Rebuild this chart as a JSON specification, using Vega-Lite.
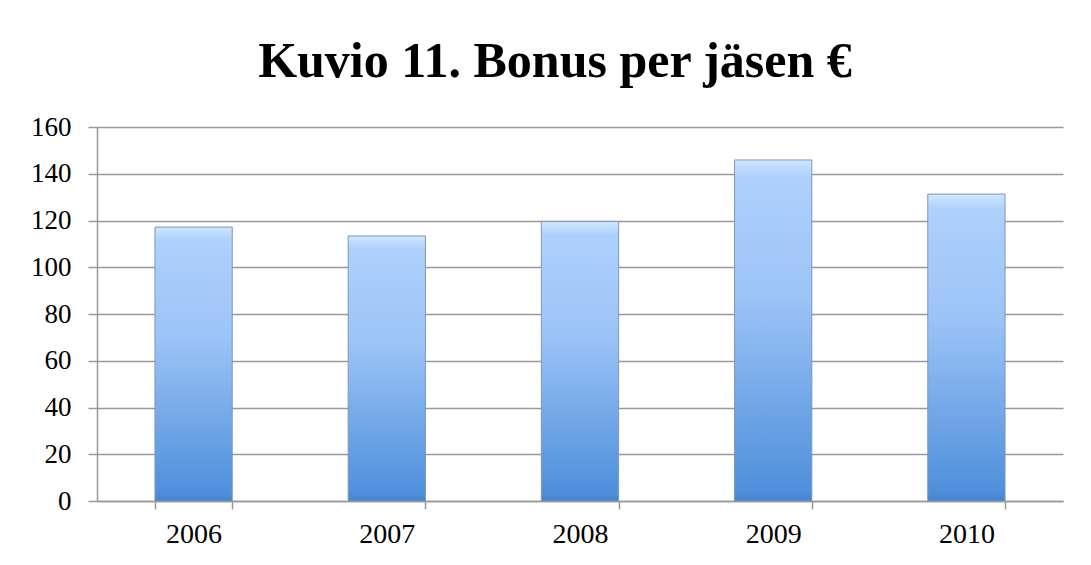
{
  "$schema": "https://vega.github.io/schema/vega-lite/v6.json",
  "width": 966,
  "height": 374,
  "autosize": {"type": "none"},
  "padding": {"left": 97, "top": 127, "right": 28, "bottom": 64},
  "background": "white",
  "title": {
    "text": "Kuvio 11. Bonus per jäsen €",
    "font": "Liberation Serif",
    "fontSize": 50,
    "fontWeight": "bold",
    "color": "#000000",
    "anchor": "middle",
    "baseline": "alphabetic",
    "offset": -14,
    "dx": -25
  },
  "data": {
    "values": [
      {"year": "2006", "bonus": 117.2},
      {"year": "2007", "bonus": 113.4},
      {"year": "2008", "bonus": 119.6},
      {"year": "2009", "bonus": 145.9},
      {"year": "2010", "bonus": 131.3}
    ]
  },
  "mark": {
    "type": "bar",
    "color": {
      "gradient": "linear",
      "x1": 0, "y1": 0, "x2": 0, "y2": 1,
      "stops": [
        {"offset": 0, "color": "#cfe6ff"},
        {"offset": 0.05, "color": "#aed0fc"},
        {"offset": 0.4, "color": "#9cc4f7"},
        {"offset": 0.97, "color": "#4f8fdb"},
        {"offset": 1, "color": "#4682cc"}
      ]
    },
    "stroke": "#7f97b8",
    "strokeWidth": 1
  },
  "encoding": {
    "x": {
      "field": "year",
      "type": "ordinal",
      "scale": {"paddingInner": 0.6, "paddingOuter": 0.3},
      "axis": {
        "title": null,
        "labelAngle": 0,
        "labelFont": "Liberation Serif",
        "labelFontSize": 28,
        "labelColor": "#000000",
        "labelPadding": 11,
        "tickBand": "extent",
        "tickSize": 8,
        "tickColor": "#999999",
        "tickWidth": 1.5,
        "domainColor": "#999999",
        "domainWidth": 1.5,
        "grid": false
      }
    },
    "y": {
      "field": "bonus",
      "type": "quantitative",
      "scale": {"domain": [0, 160], "nice": false},
      "axis": {
        "title": null,
        "values": [0, 20, 40, 60, 80, 100, 120, 140, 160],
        "labelFont": "Liberation Serif",
        "labelFontSize": 27,
        "labelColor": "#000000",
        "labelPadding": 17,
        "tickSize": 9,
        "tickColor": "#999999",
        "tickWidth": 1.5,
        "domainColor": "#999999",
        "domainWidth": 1.5,
        "grid": true,
        "gridColor": "#999999",
        "gridWidth": 1.5
      }
    }
  },
  "config": {
    "view": {"stroke": null}
  }
}
